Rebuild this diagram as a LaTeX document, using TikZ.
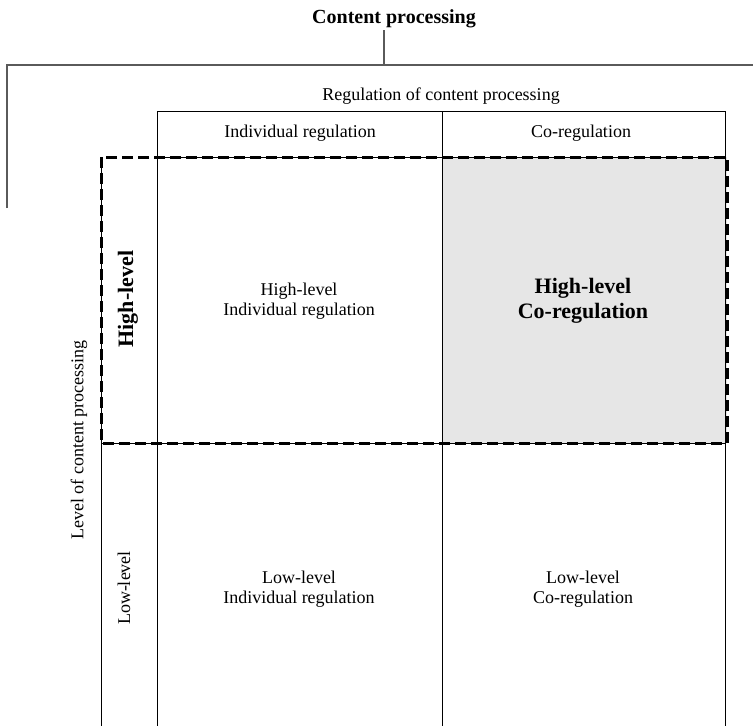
\documentclass[tikz,border=0pt]{standalone}
\usepackage{fontspec}
\setmainfont{Liberation Serif}
\usepackage{xcolor}
\definecolor{cFill}{HTML}{E6E6E6}
\definecolor{cBracket}{HTML}{5A5A5A}
\usetikzlibrary{positioning}
\tikzset{
  grid-line/.style={draw=black,line width=0.8pt},
  bracket-line/.style={draw=cBracket,line width=1.2pt},
  focus-box/.style={draw=black,line width=3pt,dash pattern=on 11pt off 5pt},
  label-text/.style={align=center,font=\fontsize{18}{20}\selectfont},
  label-bold/.style={align=center,font=\fontsize{22}{25}\selectfont\bfseries},
}

\begin{document}
\begin{tikzpicture}[x=1pt,y=-1pt]
  \useasboundingbox (0,0) rectangle (753,726);
  % highlighted cell
  \fill[cFill] (442,157) rectangle (727,443);
  % table grid
  \draw[grid-line] (157,726) -- (157,111) -- (725,111) -- (725,726);
  \draw[grid-line] (442,111) -- (442,726);
  \draw[grid-line] (157,157) -- (725,157);
  \draw[grid-line] (101,443) -- (725,443);
  \draw[grid-line] (101,157) -- (101,726);
  % focus box
  \draw[focus-box] (101,157) rectangle (727,443);
  % headings
  \node[label-bold,font=\fontsize{20}{24}\selectfont\bfseries,inner sep=2pt] (title) at (394,19) {Content processing};
  \node[label-text] (regulation) at (441,96) {Regulation of content processing};
  \node[label-text] (hdr-ind) at (300,133) {Individual regulation};
  \node[label-text] (hdr-co) at (581,133) {Co-regulation};
  \node[label-text,rotate=90] (level) at (79,440) {Level of content processing};
  \node[label-bold,rotate=90] (row-high) at (128,299) {High-level};
  \node[label-text,rotate=90] (row-low) at (124,588) {Low-level};
  % cells
  \node[label-text] (cell-hi-ind) at (299,301) {High-level\\Individual regulation};
  \node[label-bold] (cell-hi-co) at (583,301) {High-level\\Co-regulation};
  \node[label-text] (cell-lo-ind) at (299,589) {Low-level\\Individual regulation};
  \node[label-text] (cell-lo-co) at (583,589) {Low-level\\Co-regulation};
  % bracket
  \coordinate (brk-top) at (384,65);
  \coordinate (brk-left) at (7,208);
  \coordinate (brk-right) at (753,65);
  \draw[bracket-line] (title.south -| brk-top) -- (brk-top);
  \draw[bracket-line] (brk-left) |- (brk-right);
\end{tikzpicture}
\end{document}
